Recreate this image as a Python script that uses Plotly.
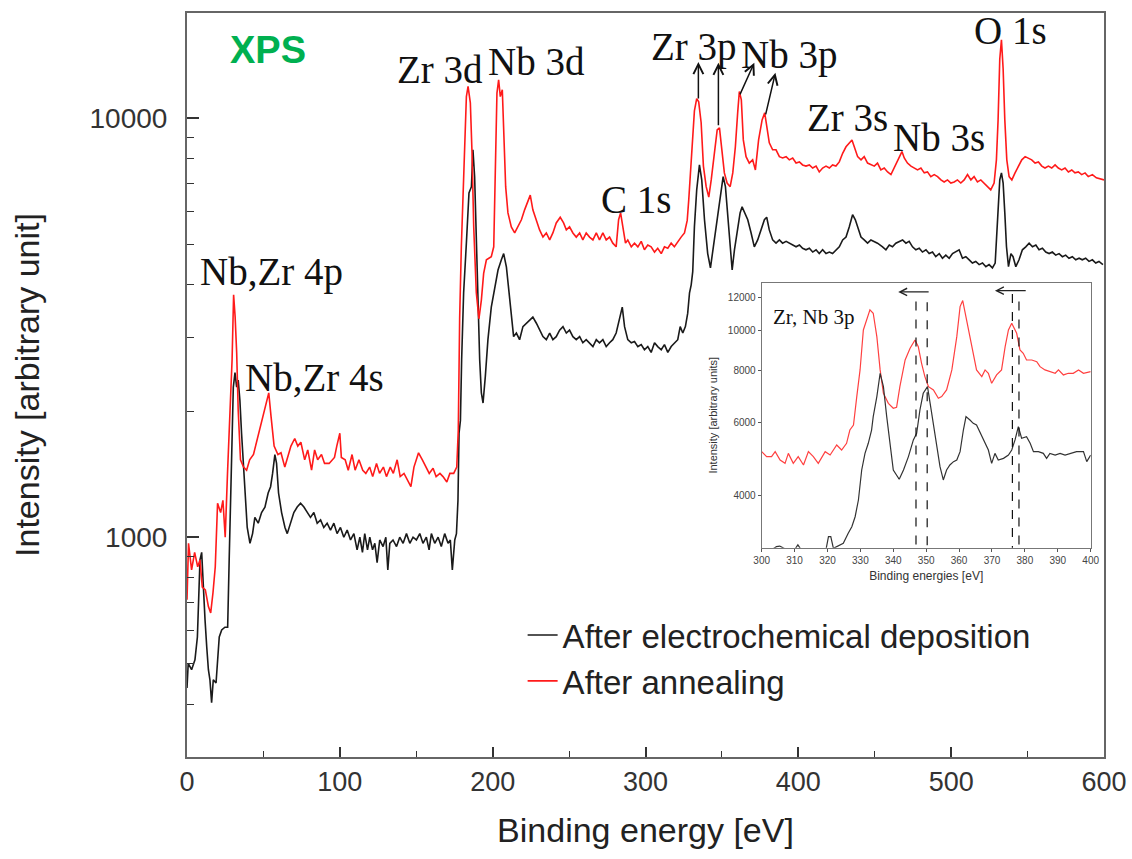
import numpy as np
import plotly.graph_objects as go

# ---------------- main survey spectra (binding energy eV, intensity) ----------------
deposition_spectrum = [
    (0.0,437),(0.8,500),(3.0,483),(5.2,510),(6.8,578),(8.5,883),(9.6,920),(10.7,737),(11.8,635),(12.9,548),
    (14.0,483),(15.0,457),(16.1,403),(17.2,457),(19.0,449),(21.1,578),(22.7,601),(24.8,610),(26.6,610),(27.6,883),
    (28.5,1275),(29.2,1770),(30.3,2280),(31.4,2470),(32.5,2280),(33.5,2370),(34.6,2125),(35.7,1770),(36.8,1530),(37.9,1275),
    (39.4,1055),(41.2,967),(42.9,1020),(44.4,1115),(46.6,1080),(48.8,1145),(51.0,1180),(53.1,1275),(54.7,1320),(56.0,1420),
    (57.5,1575),(58.6,1500),(59.9,1275),(61.9,1145),(64.1,1055),(65.6,1020),(67.8,1080),(69.9,1145),(72.1,1180),(74.3,1205),
    (76.5,1180),(78.6,1145),(80.8,1115),(83.0,1145),(85.2,1080),(87.4,1100),(89.5,1055),(91.7,1080),(93.9,1040),(96.1,1080),
    (98.2,1020),(100.4,1055),(102.6,1000),(104.8,1040),(107.0,985),(109.2,1020),(111.3,933),(113.1,1000),(114.8,920),(116.3,1020),
    (118.1,933),(119.6,1000),(121.4,933),(122.9,967),(124.4,870),(126.1,985),(128.3,950),(130.1,1000),(131.4,836),(132.7,967),
    (134.8,985),(137.1,950),(139.2,1000),(141.4,967),(143.6,1020),(145.8,967),(147.9,1000),(150.1,985),(152.3,1020),(154.4,967),
    (156.6,1000),(158.4,933),(159.9,1020),(162.1,967),(164.3,1000),(166.4,950),(168.6,1020),(170.8,967),(172.3,985),(173.6,836),
    (175.2,985),(176.3,1020),(177.3,1225),(178.0,1770),(178.9,1900),(179.7,2650),(181.0,3830),(182.8,5030),(184.5,6630),(186.1,6860),
    (187.1,8400),(188.2,7240),(189.3,5030),(190.4,3490),(191.5,2650),(192.6,2210),(193.7,2090),(195.2,2420),(196.9,2960),(199.1,3540),
    (201.3,3950),(203.5,4340),(205.7,4590),(207.2,4750),(209.0,4410),(210.7,3830),(212.2,3300),(213.7,3010),(215.5,3070),(217.6,2960),
    (219.8,3180),(222.0,3240),(224.2,3300),(226.3,3350),(228.6,3240),(230.7,3120),(232.9,3010),(235.1,2960),(237.3,3070),(239.4,2960),
    (241.6,3010),(243.8,3120),(246.0,3180),(248.2,3070),(250.3,3120),(252.5,3010),(254.7,2960),(256.9,3010),(259.0,2910),(261.2,2960),
    (263.4,2910),(265.6,2850),(267.8,2960),(269.9,2910),(272.1,2960),(274.3,2850),(276.5,2910),(278.6,2960),(280.8,3070),(283.0,3300),
    (284.8,3540),(286.3,3180),(288.4,2960),(290.7,2910),(292.8,2930),(295.0,2850),(297.2,2880),(299.3,2800),(301.5,2850),(303.7,2760),
    (305.9,2910),(308.0,2850),(310.3,2800),(312.4,2880),(314.6,2760),(316.8,2850),(318.9,2910),(321.1,2960),(322.7,3180),(324.4,3070),
    (326.1,3180),(327.6,3420),(328.8,3830),(329.9,4000),(330.9,4300),(332.0,5500),(333.5,6740),(335.3,7730),(336.8,7120),(338.6,5720),
    (340.7,4750),(342.5,4390),(344.4,4930),(346.6,5620),(348.8,6380),(350.8,7250),(352.3,6860),(353.8,5940),(355.4,5120),(356.7,4340),
    (358.2,4850),(360.3,5500),(361.9,5940),(363.2,6140),(364.7,5940),(366.9,5720),(369.1,5320),(371.2,4930),(373.4,5120),(375.6,5410),
    (377.8,5720),(379.3,5800),(381.0,5410),(383.2,5120),(385.4,5030),(387.6,5120),(389.7,5030),(392.0,5080),(394.1,5030),(396.3,4980),
    (398.5,4930),(400.7,4980),(402.8,4890),(405.0,4850),(407.2,4890),(409.4,4790),(411.6,4850),(413.7,4750),(415.9,4850),(418.1,4750),
    (420.3,4790),(422.4,4750),(424.6,4850),(426.8,4930),(429.0,5120),(431.2,5200),(433.3,5500),(435.5,5880),(437.3,5720),(438.8,5500),
    (441.0,5200),(443.1,5120),(445.3,5030),(447.5,5120),(449.7,5080),(451.8,5030),(455.1,4930),(457.3,4850),(459.5,4980),(461.6,4930),
    (463.8,5030),(466.0,5080),(468.2,5120),(470.4,5030),(472.5,5080),(474.7,4930),(476.9,4850),(479.1,4890),(481.2,4790),(483.5,4850),
    (485.6,4750),(487.8,4790),(489.9,4670),(492.2,4750),(494.3,4630),(496.5,4710),(498.7,4630),(500.9,4750),(503.0,4790),(505.2,4850),
    (507.4,4630),(509.6,4670),(511.8,4590),(513.9,4510),(516.1,4550),(518.3,4470),(520.5,4510),(522.7,4420),(524.8,4470),(527.0,4390),
    (528.8,4510),(529.6,5120),(530.7,6140),(531.8,7120),(532.9,7400),(534.0,7000),(535.1,5940),(536.2,4930),(537.5,4420),(539.1,4750),
    (540.5,4670),(542.3,4420),(544.4,4590),(546.6,4850),(548.8,4930),(551.0,5030),(553.2,4930),(555.4,4980),(557.5,4850),(559.7,4890),
    (561.9,4790),(564.1,4750),(566.2,4790),(568.4,4710),(570.6,4750),(572.8,4670),(574.9,4710),(577.1,4630),(579.3,4670),(581.5,4590),
    (583.7,4630),(585.8,4590),(588.0,4630),(590.2,4550),(592.4,4590),(594.6,4510),(596.7,4550),(599.3,4470),
]

annealing_spectrum = [
    (0.0,709),(1.0,967),(3.0,836),(5.0,920),(7.0,850),(8.5,883),(10.0,760),(12.0,749),(14.0,683),(15.5,660),
    (17.0,737),(18.5,850),(20.0,1205),(22.0,1145),(23.5,1225),(25.0,1000),(26.5,1420),(28.0,1900),(29.5,2650),(30.5,3790),
    (31.5,3350),(32.5,2760),(33.5,2010),(35.0,1530),(37.0,1470),(39.0,1445),(41.0,1530),(43.5,1575),(45.5,1685),(47.5,1800),
    (50.0,1980),(52.0,2125),(53.5,2210),(55.0,1940),(57.0,1650),(59.5,1575),(61.5,1590),(64.0,1470),(66.0,1560),(68.0,1650),
    (70.5,1720),(72.5,1650),(74.5,1685),(77.0,1530),(79.0,1615),(81.5,1445),(83.5,1615),(85.5,1530),(88.0,1575),(90.0,1500),
    (93.0,1500),(96.5,1550),(98.0,1650),(100.0,1770),(101.0,1550),(103.5,1530),(105.5,1445),(108.0,1575),(110.0,1445),(112.5,1530),
    (115.0,1445),(117.0,1420),(119.5,1470),(121.5,1395),(124.0,1500),(126.0,1420),(128.5,1470),(130.5,1395),(133.0,1470),(135.0,1420),
    (137.5,1530),(139.5,1395),(142.0,1420),(144.0,1370),(146.5,1320),(148.5,1470),(151.5,1590),(154.0,1530),(156.5,1470),(158.5,1420),
    (161.0,1460),(163.0,1395),(165.5,1420),(167.5,1395),(170.0,1355),(172.0,1420),(174.5,1420),(176.5,1470),(177.5,1800),(178.4,3320),
    (179.5,4930),(180.6,6630),(181.7,8540),(182.8,11250),(183.9,11900),(185.4,10870),(186.5,8260),(187.6,5500),(189.3,3830),(191.0,3320),
    (192.6,3680),(194.1,4260),(195.9,4590),(199.1,4670),(200.7,4930),(201.8,7950),(202.8,11470),(203.9,12340),(205.0,11250),(206.3,11680),
    (207.4,8730),(208.5,6860),(210.0,5940),(212.2,5500),(214.4,5320),(216.5,5500),(218.8,5720),(220.9,6040),(223.1,6380),(224.6,6550),
    (226.3,6040),(228.6,5720),(230.7,5410),(232.9,5200),(235.1,5320),(237.3,5120),(239.4,5320),(241.6,5620),(244.2,5800),(246.4,5620),
    (248.2,5410),(250.3,5500),(252.5,5320),(254.7,5200),(256.9,5320),(259.0,5120),(261.2,5320),(263.4,5200),(265.6,5120),(267.8,5320),
    (269.9,5120),(272.1,5320),(274.3,5120),(276.5,5200),(278.6,5030),(280.8,4930),(282.4,5720),(283.7,5940),(285.2,5500),(286.9,5030),
    (288.4,5120),(290.7,4930),(292.8,5030),(295.0,4930),(297.2,5080),(299.3,4850),(301.5,4980),(303.7,4930),(305.9,4790),(308.0,4890),
    (310.3,4750),(312.4,4930),(314.6,4890),(316.8,5030),(318.9,4930),(321.1,5080),(323.3,5200),(325.5,5320),(327.3,5700),(328.3,6380),
    (329.9,8000),(332.0,10400),(333.5,11130),(334.8,10930),(336.4,9760),(337.9,7680),(339.7,6860),(341.4,6480),(343.0,7120),(345.1,8400),
    (346.9,9370),(348.4,9480),(350.1,8400),(351.6,7400),(353.4,7000),(355.4,6860),(357.1,7400),(358.8,8540),(360.3,10290),(361.4,11570),
    (362.7,11050),(364.0,8870),(365.8,8090),(367.9,7810),(370.1,7950),(371.9,7520),(374.0,8870),(376.3,9900),(378.0,10290),(379.5,9370),
    (381.0,8730),(383.2,8400),(385.4,8400),(387.6,8090),(389.7,8030),(392.0,8090),(394.1,7950),(396.3,8030),(398.5,7810),(400.7,7860),
    (402.8,7730),(405.0,7680),(407.2,7730),(409.4,7600),(411.6,7680),(413.7,7440),(415.9,7600),(418.1,7680),(420.3,7600),(422.4,7730),
    (424.6,7680),(426.8,7860),(429.0,8240),(431.2,8540),(433.3,8730),(435.1,8870),(436.6,8540),(438.8,8090),(441.0,7950),(443.1,8090),
    (445.3,7810),(447.5,7730),(449.7,7680),(451.8,7810),(454.0,7520),(456.2,7600),(458.4,7440),(460.6,7330),(462.7,7600),(463.8,7810),
    (466.0,8090),(467.8,8320),(469.3,8030),(471.4,7810),(473.7,7680),(475.8,7600),(478.0,7520),(480.2,7600),(482.4,7400),(484.5,7440),
    (486.7,7250),(488.9,7330),(491.1,7250),(493.3,7120),(495.4,7040),(497.6,7120),(499.8,7000),(502.0,7040),(504.1,7120),(506.3,7000),
    (508.5,7120),(510.7,7330),(512.9,7120),(515.0,7250),(517.2,7040),(519.4,7120),(521.6,7000),(523.7,6860),(525.9,6740),(528.1,7000),
    (529.6,7950),(530.7,9900),(531.8,13830),(532.9,15380),(534.0,13110),(535.1,9900),(536.4,7950),(537.9,7250),(539.7,7120),(541.8,7400),
    (544.0,7680),(546.2,7950),(548.4,8090),(550.5,8030),(552.7,7950),(554.9,7810),(557.1,7860),(559.3,7680),(561.4,7600),(563.6,7680),
    (565.8,7600),(568.0,7730),(570.1,7600),(572.3,7520),(574.5,7600),(576.7,7440),(578.9,7520),(581.0,7400),(583.2,7440),(585.4,7330),
    (587.6,7400),(589.7,7250),(592.4,7330),(595.0,7200),(597.8,7160),(600.0,7120),
]

# ---------------- inset: Zr, Nb 3p region ----------------
inset_deposition = [
    (300.0,2940),(303.0,2960),(304.5,3010),(305.5,3020),(306.5,2990),(308.0,2950),(310.0,2960),(311.0,3040),(312.0,2960),
    (315.0,2950),(318.0,2960),(319.5,2950),(320.3,3182),(321.0,3182),(321.8,2982),(324.8,3067),(326.3,3242),(327.4,3363),
    (328.4,3554),(329.4,3899),(330.4,4606),(331.4,5050),(332.4,5340),(333.4,5748),(333.9,6190),(335.0,6918),(336.0,7873),
    (337.0,7311),(338.0,6190),(339.0,5242),(340.0,4606),(341.8,4374),(343.1,4606),(344.6,4960),(346.1,5440),(347.1,5645),
    (348.1,6425),(349.1,7046),(350.4,7311),(351.2,6666),(352.2,5966),(353.2,5340),(354.2,4692),(355.2,4358),(356.2,4606),
    (357.2,4735),(358.3,4824),(359.3,4868),(360.3,5098),(361.3,5748),(362.1,6190),(363.3,6077),(364.3,5966),(365.3,5910),
    (366.9,5541),(367.9,5340),(368.9,5145),(369.9,4779),(370.9,5050),(371.9,4868),(373.5,4913),(375.0,5004),(376.0,5145),
    (377.0,5440),(378.0,5856),(379.0,5491),(380.5,5541),(381.6,5340),(382.6,5098),(384.1,5098),(385.6,5050),(386.6,4913),
    (387.6,5050),(389.2,5004),(390.7,5050),(392.2,5004),(393.7,5050),(395.7,5098),(397.8,5098),(398.8,4824),(400.0,5004),
]

inset_annealing = [
    (300.0,5098),(301.5,4960),(303.0,4960),(304.1,5098),(305.6,4868),(307.1,4779),(308.1,5050),(309.6,4779),(311.1,4960),
    (312.7,4735),(314.2,5098),(315.7,4960),(317.2,4779),(319.3,5098),(320.8,5004),(322.8,5290),(324.3,5145),(325.8,5340),
    (326.8,5748),(327.9,5910),(328.9,6918),(329.9,8021),(330.9,10012),(331.9,10583),(332.9,11187),(333.9,10982),(335.0,9647),
    (336.0,8021),(337.0,7046),(338.5,6666),(340.0,6484),(341.0,6520),(342.0,7311),(343.6,8475),(345.1,9044),(346.6,9472),
    (347.6,9127),(348.6,8321),(349.6,7730),(350.7,7311),(352.2,7178),(353.7,6854),(354.7,6918),(356.2,7178),(357.8,8021),
    (359.3,9647),(360.3,11395),(361.1,11782),(362.3,10583),(363.8,9127),(365.3,8021),(366.9,7730),(367.9,8021),(368.9,7873),
    (369.9,7447),(371.4,7801),(372.9,8021),(374.0,9127),(375.0,10012),(376.0,10389),(377.5,9829),(378.5,8961),(379.5,8798),
    (380.5,8475),(382.1,8475),(383.6,8397),(384.6,8167),(386.1,8021),(387.6,7946),(389.2,7873),(390.2,8021),(391.7,7801),
    (393.2,7873),(394.7,7873),(396.3,8021),(397.8,7873),(400.0,7946),
]

# dashed peak-position markers in the inset (eV, top intensity)
inset_marker_ev = [346.9, 350.3, 376.2, 378.2]
inset_marker_top = [11720, 11670, 12225, 11720]
inset_marker_bottom = 2900

# peak labels of the survey: (text, eV, intensity at label centre)
peak_labels = [
    ("Zr 3d", 165.4, 13030), ("Nb 3d", 228.8, 13610), ("C 1s", 293.5, 6380),
    ("Zr 3p", 332.0, 14790), ("Nb 3p", 394.1, 14160), ("Zr 3s", 432.0, 10010),
    ("Nb 3s", 492.2, 8970), ("O 1s", 538.6, 16140),
    ("Nb,Zr 4p", 55.6, 4300), ("Nb,Zr 4s", 83.7, 2410),
]
# arrows of the 3p peaks: (tail eV, tail intensity, head eV, head intensity)
peak_arrows = [
    (334.6, 11050, 334.6, 13610), (347.7, 9530, 347.7, 13550),
    (361.4, 11300, 371.2, 13550), (378.4, 10120, 385.0, 12820),
]
# inset shift arrows: (tail eV, head eV, intensity)
inset_arrows = [(351.2, 341.5, 12360), (380.7, 370.9, 12450)]

x_ticks = [0, 100, 200, 300, 400, 500, 600]
y_ticks = [1000, 10000]
y_minor = [400, 500, 600, 700, 800, 900, 2000, 3000, 4000, 5000, 6000, 7000, 8000, 9000]
inset_x_ticks = list(range(300, 401, 10))
inset_y_ticks = [4000, 6000, 8000, 10000, 12000]

SANS = "Liberation Sans, Arial, sans-serif"
SERIF = "Liberation Serif, Times New Roman, serif"

fig = go.Figure()

dep_ev, dep_i = zip(*deposition_spectrum)
ann_ev, ann_i = zip(*annealing_spectrum)
fig.add_trace(go.Scatter(x=dep_ev, y=dep_i, mode="lines", name="After electrochemical deposition",
                         line=dict(color="#1a1a1a", width=1.6), xaxis="x", yaxis="y"))
fig.add_trace(go.Scatter(x=ann_ev, y=ann_i, mode="lines", name="After annealing",
                         line=dict(color="#ff1a1a", width=1.6), xaxis="x", yaxis="y"))

idep_ev, idep_i = zip(*inset_deposition)
iann_ev, iann_i = zip(*inset_annealing)
fig.add_trace(go.Scatter(x=iann_ev, y=iann_i, mode="lines", showlegend=False,
                         line=dict(color="#ff4040", width=1.2), xaxis="x2", yaxis="y2"))
fig.add_trace(go.Scatter(x=idep_ev, y=idep_i, mode="lines", showlegend=False,
                         line=dict(color="#333333", width=1.2), xaxis="x2", yaxis="y2"))
for ev, top in zip(inset_marker_ev, inset_marker_top):
    fig.add_trace(go.Scatter(x=[ev, ev], y=[top, inset_marker_bottom], mode="lines", showlegend=False,
                             line=dict(color="#111111", width=1.2, dash="dash"), xaxis="x2", yaxis="y2"))

annotations = [dict(text="<b>XPS</b>", xref="paper", yref="paper", x=0.0883, y=0.950,
                    xanchor="center", yanchor="middle",
                    showarrow=False, font=dict(family=SANS, size=38, color="#00b050"))]
for text, ev, inten in peak_labels:
    annotations.append(dict(text=text, x=ev, y=np.log10(inten), xref="x", yref="y", showarrow=False,
                            xanchor="center", yanchor="middle",
                            font=dict(family=SERIF, size=39, color="#111111")))
for tx, ty, hx, hy in peak_arrows:
    annotations.append(dict(text="", x=hx, y=np.log10(hy), ax=tx, ay=np.log10(ty), xref="x", yref="y",
                            axref="x", ayref="y", showarrow=True, arrowhead=5, arrowsize=1.3,
                            arrowwidth=1.5, arrowcolor="#111111"))
for tx, hx, inten in inset_arrows:
    annotations.append(dict(text="", x=hx, y=np.log10(inten), ax=tx, ay=np.log10(inten), xref="x2", yref="y2",
                            axref="x2", ayref="y2", showarrow=True, arrowhead=5, arrowsize=1.2,
                            arrowwidth=1.2, arrowcolor="#222222"))
annotations.append(dict(text="Zr, Nb 3p", x=315.9, y=np.log10(10760), xref="x2", yref="y2", showarrow=False,
                        xanchor="center", yanchor="middle",
                        font=dict(family=SERIF, size=21, color="#111111")))

fig.update_layout(
    width=1132, height=859,
    margin=dict(l=187, r=28, t=13, b=102),
    paper_bgcolor="white", plot_bgcolor="white",
    showlegend=True,
    legend=dict(x=0.366, y=0.133, xanchor="left", yanchor="middle", bgcolor="rgba(0,0,0,0)",
                font=dict(family=SANS, size=33, color="#222222"), itemwidth=30),
    annotations=annotations,
    xaxis=dict(domain=[0, 1], range=[0, 600], tickvals=x_ticks, ticks="inside", ticklen=10, tickwidth=1.5,
               tickcolor="#333333", showline=True, linecolor="#666666", linewidth=2, mirror=True,
               showgrid=False, zeroline=False, automargin=False,
               tickfont=dict(family=SANS, size=27, color="#333333"),
               minor=dict(dtick=50, tick0=0, ticks="inside", ticklen=6, tickwidth=1.2, tickcolor="#333333"),
               title=dict(text="Binding energy [eV]", font=dict(family=SANS, size=34, color="#222222"), standoff=22)),
    yaxis=dict(domain=[0, 1], type="log", range=[np.log10(299), np.log10(17810)], tickvals=y_ticks,
               ticktext=[str(v) for v in y_ticks], ticks="inside", ticklen=12, tickwidth=1.5, tickcolor="#333333",
               showline=True, linecolor="#666666", linewidth=2, mirror=True, showgrid=False, zeroline=False,
               automargin=False,
               tickfont=dict(family=SANS, size=28, color="#333333"), ticklabelstandoff=12,
               minor=dict(tickvals=y_minor, ticks="inside", ticklen=7, tickwidth=1.2, tickcolor="#333333"),
               title=dict(text="Intensity [arbitrary unit]", font=dict(family=SANS, size=34, color="#222222"),
                          standoff=40)),
    xaxis2=dict(domain=[0.6267, 0.9855], anchor="y2", range=[300, 400], tickvals=inset_x_ticks,
                ticks="outside", ticklen=3, tickcolor="#555555", showline=True, linecolor="#777777",
                linewidth=1, mirror=True, showgrid=False, zeroline=False, automargin=False,
                tickfont=dict(family=SANS, size=10, color="#444444"),
                title=dict(text="Binding energies [eV]", font=dict(family=SANS, size=12, color="#333333"),
                           standoff=6)),
    yaxis2=dict(domain=[0.2813, 0.6375], anchor="x2", type="log", range=[np.log10(2993), np.log10(13010)],
                tickvals=inset_y_ticks, ticktext=[str(v) for v in inset_y_ticks], ticks="outside", ticklen=3,
                tickcolor="#555555", showline=True, linecolor="#777777", linewidth=1, mirror=True,
                showgrid=False, zeroline=False, automargin=False,
                tickfont=dict(family=SANS, size=10, color="#444444"),
                title=dict(text="Intensity [arbitrary units]", font=dict(family=SANS, size=11, color="#333333"),
                           standoff=8)),
)

fig.write_html("out.html", config={"displayModeBar": False},
               post_script="document.body.style.margin='0px';document.body.style.overflow='hidden';")
